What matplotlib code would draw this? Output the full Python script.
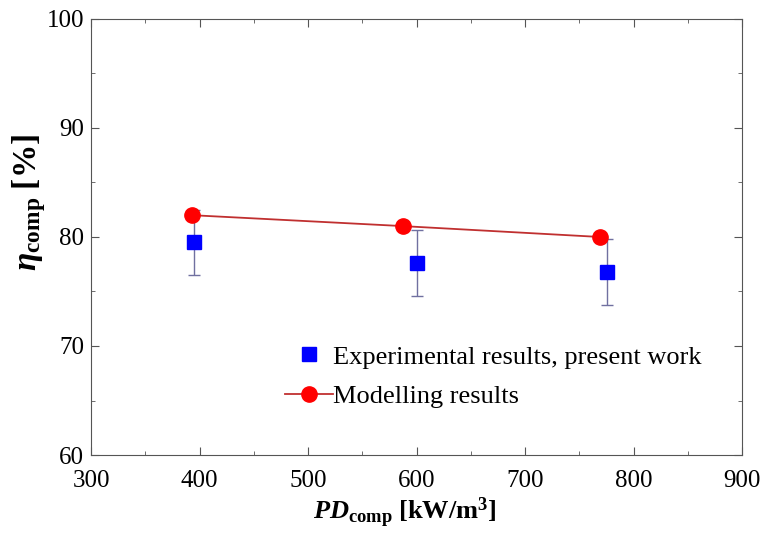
import matplotlib
matplotlib.use("Agg")
import matplotlib.pyplot as plt
from matplotlib.ticker import MultipleLocator

# Data
exp_x = [395, 600, 775]
exp_y = [79.5, 77.6, 76.8]
exp_err = [3.0, 3.0, 3.0]
mod_x = [393, 587, 769]
mod_y = [82.0, 81.0, 80.0]

plt.rcParams['font.family'] = ['Liberation Serif', 'DejaVu Serif']
plt.rcParams['mathtext.fontset'] = 'custom'
plt.rcParams['mathtext.rm'] = 'Liberation Serif'
plt.rcParams['mathtext.it'] = 'Liberation Serif:italic'
plt.rcParams['mathtext.bf'] = 'Liberation Serif:bold'
plt.rcParams['mathtext.bfit'] = 'Liberation Serif:bold:italic'

fig = plt.figure(figsize=(7.66, 5.42), dpi=100)
ax = fig.add_axes([0.119, 0.1605, 0.85, 0.8045])

ax.errorbar(exp_x, exp_y, yerr=exp_err, fmt='none', ecolor='#7070a0',
            elinewidth=1.0, capsize=4, capthick=1.0, zorder=2)
ax.plot(exp_x, exp_y, 's', color='#0000ff', markersize=10, linestyle='none',
        label='Experimental results, present work', zorder=3)
ax.plot(mod_x, mod_y, '-o', color='#c03030', markerfacecolor='#ff0000',
        markeredgecolor='#ff0000', markersize=11, linewidth=1.3,
        label='Modelling results', zorder=4)

ax.set_xlim(300, 900)
ax.set_ylim(60, 100)
ax.xaxis.set_major_locator(MultipleLocator(100))
ax.xaxis.set_minor_locator(MultipleLocator(50))
ax.yaxis.set_major_locator(MultipleLocator(10))
ax.yaxis.set_minor_locator(MultipleLocator(5))
ax.tick_params(which='both', direction='in', top=True, right=True,
               color='#555555', labelsize=18)
ax.tick_params(which='major', length=6)
ax.tick_params(which='minor', length=3)
ax.tick_params(axis='x', which='major', pad=11)
ax.tick_params(axis='y', which='major', pad=5)
for s in ax.spines.values():
    s.set_color('#555555')

ax.set_xlabel(r'$\mathbfit{PD}_{\mathbf{comp}}\ \mathbf{[kW/m^3]}$', fontsize=19, labelpad=2)
ax.xaxis.label.set_x(0.482)
ax.set_ylabel(r'$\mathbfit{\eta}_{\mathbf{comp}}\ \mathbf{[\%]}$', fontsize=24)
ax.yaxis.set_label_coords(-0.066, 0.58)

ax.legend(loc='upper left', bbox_to_anchor=(0.298, 0.252), frameon=False,
          fontsize=19, handlelength=1.8, handletextpad=0.0, borderaxespad=0.0,
          borderpad=0.0, labelspacing=0.62)

fig.savefig('out.png', dpi=100)
